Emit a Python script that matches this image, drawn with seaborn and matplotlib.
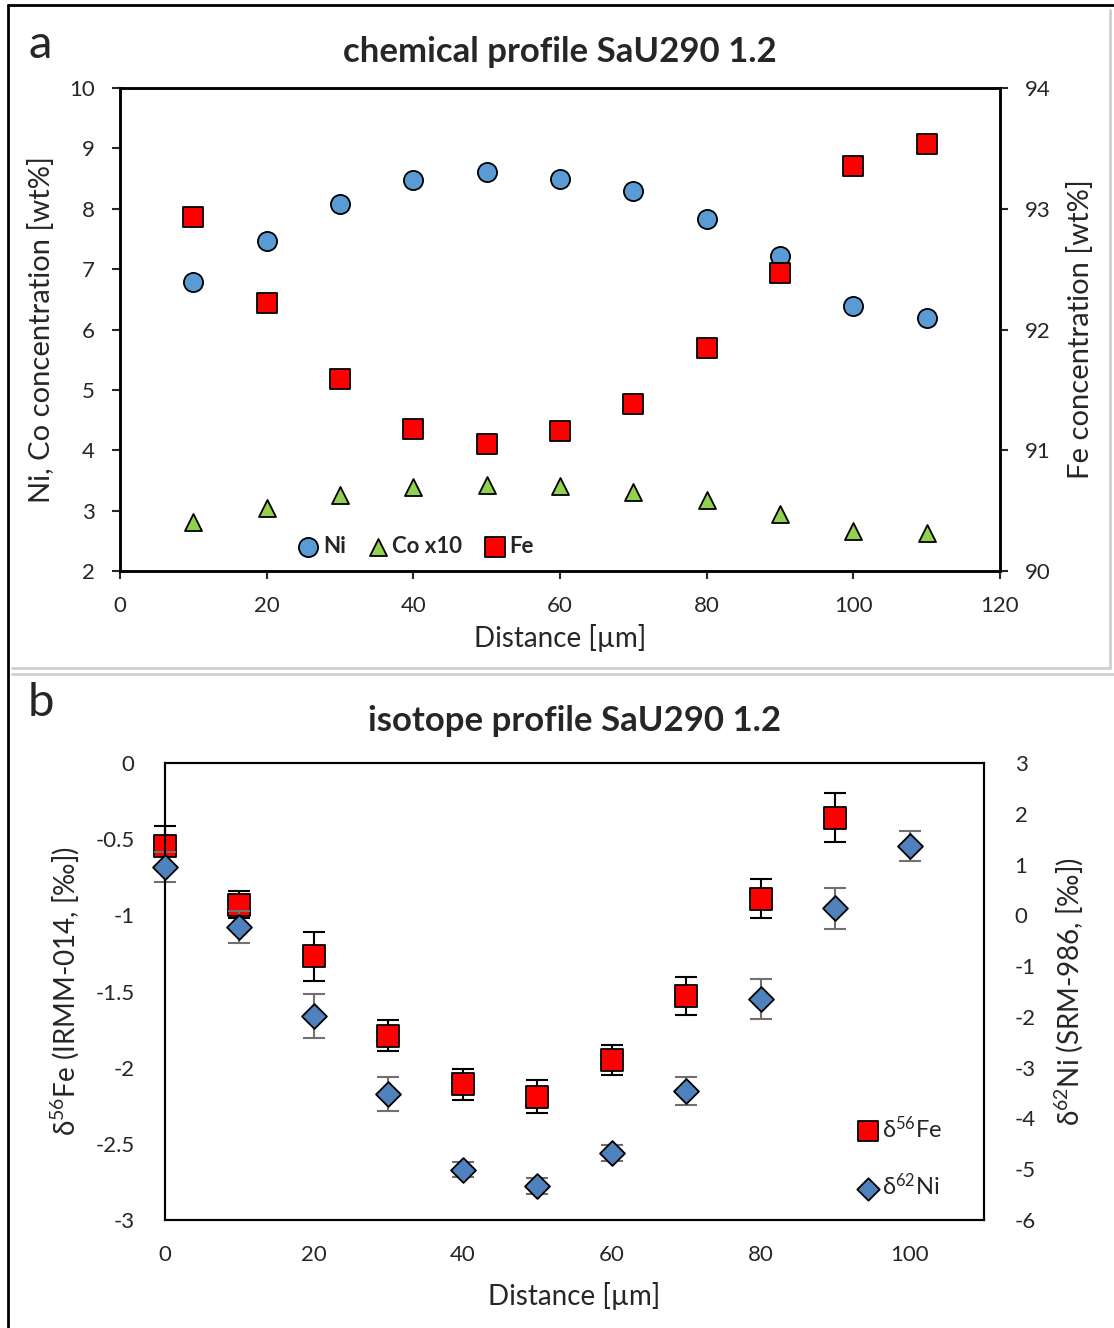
import numpy as np
import pandas as pd
import matplotlib
matplotlib.use("Agg")
import matplotlib.pyplot as plt
import seaborn as sns
from matplotlib.lines import Line2D

# --- data: chemical profile ---
dist_chem = [10, 20, 30, 40, 50, 60, 70, 80, 90, 100, 110]
ni_wt = [6.79, 7.47, 8.08, 8.48, 8.61, 8.49, 8.29, 7.83, 7.22, 6.39, 6.19]
co_x10 = [2.81, 3.04, 3.26, 3.39, 3.42, 3.41, 3.31, 3.18, 2.94, 2.66, 2.63]
fe_wt = [92.93, 92.22, 91.59, 91.18, 91.05, 91.16, 91.38, 91.85, 92.47, 93.35, 93.54]

# --- data: isotope profile ---
dist_fe = [0, 10, 20, 30, 40, 50, 60, 70, 80, 90]
d56fe = [-0.545, -0.93, -1.27, -1.79, -2.11, -2.19, -1.95, -1.53, -0.89, -0.36]
d56fe_err = [0.13, 0.09, 0.16, 0.10, 0.10, 0.11, 0.10, 0.125, 0.13, 0.16]
dist_ni = [0, 10, 20, 30, 40, 50, 60, 70, 80, 90, 100]
d62ni = [0.95, -0.23, -1.98, -3.52, -5.01, -5.33, -4.68, -3.46, -1.65, 0.14, 1.37]
d62ni_err = [0.30, 0.32, 0.43, 0.33, 0.15, 0.15, 0.15, 0.27, 0.40, 0.40, 0.30]

left_ticks_b = [0, -0.5, -1, -1.5, -2, -2.5, -3]
left_ticklabels_b = ["0", "-0.5", "-1", "-1.5", "-2", "-2.5", "-3"]
right_ticks_b = [3, 2, 1, 0, -1, -2, -3, -4, -5, -6]

sns.set_style("white")
plt.rcParams['font.family'] = ['Lato', 'DejaVu Sans']
plt.rcParams['mathtext.fontset'] = 'custom'
plt.rcParams['mathtext.rm'] = 'Lato'
plt.rcParams['mathtext.it'] = 'Lato'
plt.rcParams['axes.unicode_minus'] = False

fig = plt.figure(figsize=(11.14, 13.28), dpi=100)
W, H = 1114, 1328

def px(x0, y0, x1, y1):
    return [x0 / W, 1 - y1 / H, (x1 - x0) / W, (y1 - y0) / H]

# --- panel frames ---
fig.add_artist(Line2D([8 / W, 8 / W], [0, 1 - 5 / H], color='black', lw=2))
fig.add_artist(Line2D([8 / W, 1], [1 - 5 / H, 1 - 5 / H], color='black', lw=2))
gray = '#cfcfcf'
fig.add_artist(Line2D([12 / W, 1110 / W], [1 - 668 / H, 1 - 668 / H], color=gray, lw=2))
fig.add_artist(Line2D([1110 / W, 1110 / W], [1 - 668 / H, 1 - 10 / H], color=gray, lw=2))
fig.add_artist(Line2D([12 / W, 1], [1 - 674 / H, 1 - 674 / H], color=gray, lw=2))

# --- panel a ---
ax = fig.add_axes(px(120, 88, 1000, 571))
ax2 = ax.twinx()
sns.scatterplot(x=dist_chem, y=ni_wt, ax=ax, marker='o', s=190, color='#5B9BD5',
                edgecolor='black', linewidth=1.3, label='Ni', zorder=3)
sns.scatterplot(x=dist_chem, y=co_x10, ax=ax, marker='^', s=150, color='#92D050',
                edgecolor='black', linewidth=1.3, label='Co x10', zorder=3)
sns.scatterplot(x=dist_chem, y=fe_wt, ax=ax2, marker='s', s=190, color='#FF0000',
                edgecolor='black', linewidth=1.3, label='Fe', zorder=3)
ax.set_xlim(0, 120)
ax.set_ylim(2, 10)
ax2.set_ylim(90, 94)
ax.set_xticks(range(0, 121, 20))
ax.set_yticks(range(2, 11, 1))
ax2.set_yticks(range(90, 95, 1))
for a in (ax, ax2):
    for sp in a.spines.values():
        sp.set_color('black')
        sp.set_linewidth(1.8)
ax.tick_params(axis='both', which='major', labelsize=16, length=6, width=1.5,
               direction='out', left=True, bottom=True)
ax.tick_params(axis='y', pad=12)
ax.tick_params(axis='x', pad=12)
ax2.tick_params(axis='y', labelsize=16, length=6, width=1.5, direction='out', right=True, pad=12)
ax.set_xlabel('Distance [µm]', fontsize=20, labelpad=6)
ax.set_ylabel('Ni, Co concentration [wt%]', fontsize=21, labelpad=10)
ax2.set_ylabel('Fe concentration [wt%]', fontsize=21, labelpad=12)
h1, l1 = ax.get_legend_handles_labels()
h2, l2 = ax2.get_legend_handles_labels()
ax.get_legend().remove()
ax2.get_legend().remove()
ax2.legend(h1 + h2, l1 + l2, loc='lower left', bbox_to_anchor=(0.18, -0.012), ncol=3,
           frameon=False, handlelength=0.9, handletextpad=0.2, columnspacing=1.0,
           markerscale=1.0, prop={'weight': 'bold', 'size': 16})
ax.set_title('chemical profile SaU290 1.2', fontsize=25, fontweight='bold', pad=19)
fig.text(28 / W, 1 - 45 / H, 'a', fontsize=34, va='center', ha='left')

# --- panel b ---
bx = fig.add_axes(px(165, 763, 984, 1220))
bx2 = bx.twinx()
bx.errorbar(dist_fe, d56fe, yerr=d56fe_err, fmt='none', ecolor='black', elinewidth=1.5,
            capsize=8, capthick=1.5, zorder=2, clip_on=False)
sns.scatterplot(x=dist_fe, y=d56fe, ax=bx, marker='s', s=260, color='#FF0000',
                edgecolor='black', linewidth=1.3, zorder=3, label='δ$^{56}$Fe', clip_on=False)
bx2.errorbar(dist_ni, d62ni, yerr=d62ni_err, fmt='none', ecolor='#707070', elinewidth=1.5,
             capsize=8, capthick=1.5, zorder=2, clip_on=False)
sns.scatterplot(x=dist_ni, y=d62ni, ax=bx2, marker='D', s=160, color='#4F81BD',
                edgecolor='black', linewidth=1.3, zorder=3, label='δ$^{62}$Ni', clip_on=False)
bx.set_xlim(0, 110)
bx.set_ylim(-3, 0)
bx2.set_ylim(-6, 3)
bx.set_xticks(range(0, 101, 20))
bx.set_yticks(left_ticks_b)
bx.set_yticklabels(left_ticklabels_b)
bx2.set_yticks(right_ticks_b)
bx2.set_yticklabels([str(v) for v in right_ticks_b])
for a in (bx, bx2):
    for sp in a.spines.values():
        sp.set_color('black')
        sp.set_linewidth(1.5)
bx.tick_params(axis='both', labelsize=16, length=0)
bx.tick_params(axis='x', pad=18)
bx.tick_params(axis='y', pad=22)
bx2.tick_params(axis='y', labelsize=16, length=0, pad=22)
bx.set_xlabel('Distance [µm]', fontsize=20, labelpad=12)
bx.set_ylabel('δ$^{56}$Fe (IRMM-014, [‰])', fontsize=20, labelpad=10)
bx2.set_ylabel('δ$^{62}$Ni (SRM-986, [‰])', fontsize=20, labelpad=12)
g1, k1 = bx.get_legend_handles_labels()
g2, k2 = bx2.get_legend_handles_labels()
bx.get_legend().remove()
bx2.get_legend().remove()
bx2.legend(g1 + g2, k1 + k2, loc='lower right', bbox_to_anchor=(0.975, 0.0), frameon=False,
           fontsize=17, handlelength=0.9, handletextpad=0.15, labelspacing=1.3, markerscale=0.9)
bx.set_title('isotope profile SaU290 1.2', fontsize=25, fontweight='bold', pad=23)
fig.text(28 / W, 1 - 703 / H, 'b', fontsize=34, va='center', ha='left')

fig.savefig('out.png', dpi=100)
